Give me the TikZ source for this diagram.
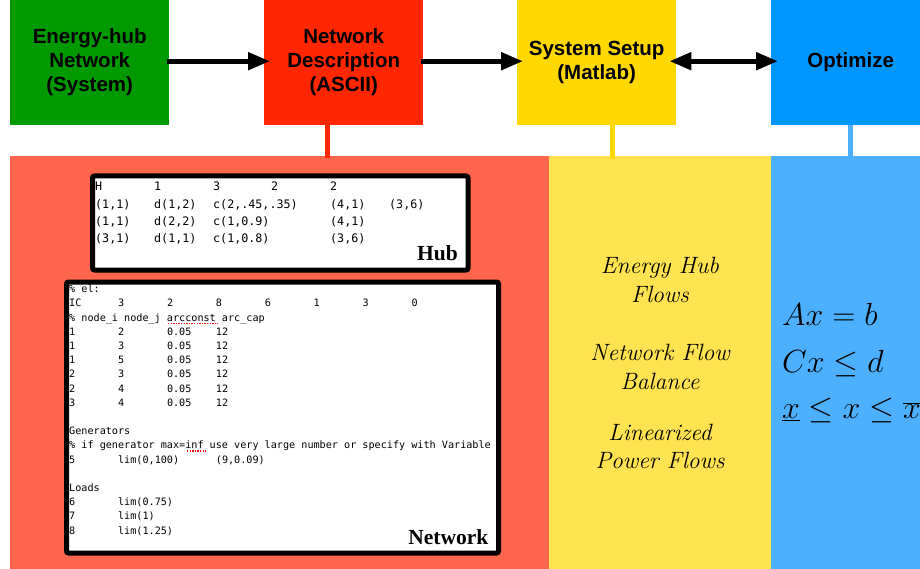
\RequirePackage{fix-cm}
\documentclass[tikz,border=0pt]{standalone}
\usepackage{fontspec}
\usetikzlibrary{arrows.meta}

\newfontfamily\helv{Liberation Sans}
\newfontfamily\tms{Liberation Serif}
\newfontfamily\mono{DejaVu Sans Mono}

\definecolor{topgreen}{RGB}{0,153,0}
\definecolor{topred}{RGB}{255,38,0}
\definecolor{topyellow}{RGB}{255,216,0}
\definecolor{topblue}{RGB}{0,150,255}
\definecolor{panelred}{RGB}{255,102,77}
\definecolor{panelyellow}{RGB}{255,227,80}
\definecolor{panelblue}{RGB}{77,176,255}

% tab stops of the two text listings
\newcommand\hcol[2]{\makebox[#1pt][l]{#2}}
\newcommand\tc[1]{\makebox[48.9pt][l]{#1}}

\tikzset{
  stage/.style={rectangle, inner sep=0pt, minimum width=159pt, minimum height=125pt,
    align=center, font=\helv\bfseries\fontsize{20.5}{24}\selectfont, anchor=north west},
  flow/.style={line width=5pt, -{Triangle[length=22pt,width=17pt]}},
  flowboth/.style={line width=5pt, {Triangle[length=22pt,width=17pt]}-{Triangle[length=22pt,width=17pt]}},
  tick/.style={line width=5pt},
  panel/.style={rectangle, inner sep=0pt, minimum height=413pt, anchor=north west},
  listing/.style={draw=black, fill=white, line width=5pt, rounded corners=2pt,
    inner sep=0pt, anchor=north west},
  hubrow/.style={anchor=base west, inner sep=0pt, font=\mono\fontsize{11.7}{17.3}\selectfont},
  netrow/.style={anchor=base west, inner sep=0pt, font=\mono\fontsize{10.15}{14.2}\selectfont},
  tag/.style={anchor=base east, inner sep=0pt, font=\tms\bfseries\fontsize{21.5}{24}\selectfont},
  phrase/.style={anchor=base, inner sep=0pt, font=\itshape\fontsize{23.6}{28.5}\selectfont},
  eqn/.style={anchor=base west, inner sep=0pt, font=\fontsize{32}{46}\selectfont},
  squiggle/.style={draw=red, line width=1.3pt, dash pattern=on 1.3pt off 1.3pt},
}

\begin{document}
\begin{tikzpicture}[x=1pt, y=-1pt]
\useasboundingbox (0,0) rectangle (920,569);
\clip (0,0) rectangle (920,569);
\fill[white] (0,0) rectangle (920,569);

% pipeline stages
\node[stage, fill=topgreen] (sys) at (10,0) {Energy-hub\\Network\\(System)};
\node[stage, fill=topred] (desc) at (264,0) {Network\\Description\\(ASCII)};
\node[stage, fill=topyellow] (setup) at (517,0) {System Setup\\(Matlab)};
\node[stage, fill=topblue] (opt) at (771,0) {Optimize};

\draw[flow, shorten <=-2pt, shorten >=-6pt]
  ([yshift=1.5pt]sys.east) -- ([yshift=1.5pt]desc.west);
\draw[flow, shorten <=-2pt, shorten >=-6pt]
  ([yshift=1.5pt]desc.east) -- ([yshift=1.5pt]setup.west);
\draw[flowboth, shorten <=-7pt, shorten >=-7pt]
  ([yshift=1.5pt]setup.east) -- ([yshift=1.5pt]opt.west);

% detail panels
\node[panel, fill=panelred, minimum width=539pt] (redp) at (10,156) {};
\node[panel, fill=panelyellow, minimum width=222pt] (yelp) at (549,156) {};
\node[panel, fill=panelblue, minimum width=149pt] (blup) at (771,156) {};

\draw[tick, draw=topred, shorten >=-2pt]
  ([xshift=-16.5pt]desc.south) -- ([xshift=-16.5pt]desc.south |- redp.north);
\draw[tick, draw=topyellow, shorten >=-3pt]
  ([xshift=15.5pt]setup.south) -- ([xshift=15.5pt]setup.south |- yelp.north);
\draw[tick, draw=panelblue]
  (opt.south) -- (opt.south |- blup.north);

% hub description listing
\node[listing, minimum width=375.5pt, minimum height=94pt] (hub) at (90,173.5) {};
\node[hubrow] (hub0) at (95,191)
  {\hcol{59}{H}\hcol{59}{1}\hcol{58}{3}\hcol{59}{2}2};
\node[hubrow] (hub1) at (95,208.3)
  {\hcol{59}{(1,1)}\hcol{59}{d(1,2)}\hcol{58}{\rlap{c(2,.45,.35)}}\hcol{59}{}\hcol{59}{(4,1)}(3,6)};
\node[hubrow] (hub2) at (95,225.6)
  {\hcol{59}{(1,1)}\hcol{59}{d(2,2)}\hcol{117}{c(1,0.9)}(4,1)};
\node[hubrow] (hub3) at (95,242.9)
  {\hcol{59}{(3,1)}\hcol{59}{d(1,1)}\hcol{117}{c(1,0.8)}(3,6)};
\node[tag] (hubtag) at (458,261) {Hub};

% network description listing
\node[listing, minimum width=432pt, minimum height=271pt] (net) at (64,279.5) {};
\node[netrow] (net0) at (69,292.6) {\% el:};
\node[netrow] (net1) at (69,306.8) {\tc{IC}\tc{3}\tc{2}\tc{8}\tc{6}\tc{1}\tc{3}0};
\node[netrow] (net2) at (69,321.0) {\% node\_i node\_j arcconst arc\_cap};
\node[netrow] (net3) at (69,335.2) {\tc{1}\tc{2}\tc{0.05}12};
\node[netrow] (net4) at (69,349.4) {\tc{1}\tc{3}\tc{0.05}12};
\node[netrow] (net5) at (69,363.6) {\tc{1}\tc{5}\tc{0.05}12};
\node[netrow] (net6) at (69,377.8) {\tc{2}\tc{3}\tc{0.05}12};
\node[netrow] (net7) at (69,392.0) {\tc{2}\tc{4}\tc{0.05}12};
\node[netrow] (net8) at (69,406.2) {\tc{3}\tc{4}\tc{0.05}12};
\node[netrow] (net10) at (69,434.6) {Generators};
\node[netrow] (net11) at (69,448.8) {\% if generator max=inf use very large number or specify with Variable};
\node[netrow] (net12) at (69,463.0) {\tc{5}\makebox[97.8pt][l]{lim(0,100)}(9,0.09)};
\node[netrow] (net14) at (69,491.4) {Loads};
\node[netrow] (net15) at (69,505.6) {\tc{6}lim(0.75)};
\node[netrow] (net16) at (69,519.8) {\tc{7}lim(1)};
\node[netrow] (net17) at (69,534.0) {\tc{8}lim(1.25)};
\node[tag] (nettag) at (488.5,544) {Network};

% spell-checker marks under two words
\draw[squiggle] (168,323.5) -- (218,323.5);
\draw[squiggle] (187,451) -- (206,451);

% model parts set up in Matlab
\node[phrase] (ph1a) at (660,273.5) {Energy Hub};
\node[phrase] (ph1b) at (660,302) {Flows};
\node[phrase] (ph2a) at (660,360) {Network Flow};
\node[phrase] (ph2b) at (660,389.5) {Balance};
\node[phrase] (ph3a) at (660,440) {Linearized};
\node[phrase] (ph3b) at (660,468.5) {Power Flows};

% the optimization problem
\node[eqn] (eq1) at (782,325) {$Ax=b$};
\node[eqn] (eq2) at (782,372) {$Cx\le d$};
\node[eqn] (eq3) at (782,418.5) {$\underline{x}\le x\le\overline{x}$};
\end{tikzpicture}
\end{document}
